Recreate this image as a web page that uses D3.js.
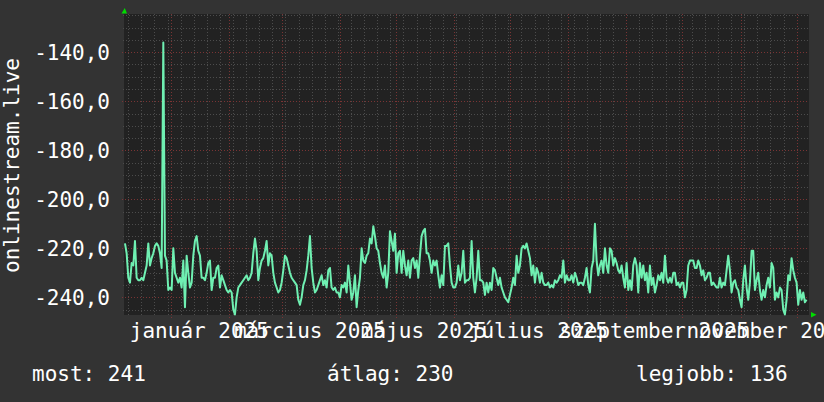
<!DOCTYPE html>
<html>
<head>
<meta charset="utf-8">
<script src="https://cdn.jsdelivr.net/npm/d3@7"></script>
<style>
  html, body { margin: 0; padding: 0; background: #333333; }
  svg { display: block; }
</style>
</head>
<body>
<div id="chart"></div>
<script>
// rank per sample (plotted as negative)
var ranks = [
  218,222,232,234,226,227,217,232,233,233,232,233,230,227,218,227,224,222,219,218,
  219,222,228,136,223,225,237,236,237,220,230,232,234,232,236,225,244,223,230,236,
  234,223,217,215,221,223,232,232,233,230,226,225,237,232,232,228,227,236,231,
  233,235,237,238,237,238,245,247,240,236,235,234,233,232,231,233,232,230,222,216,
  221,233,228,225,224,221,217,227,222,223,230,234,236,238,237,234,229,223,224,227,
  230,232,233,234,235,241,243,240,235,233,229,223,215,228,234,238,237,235,
  233,231,235,233,236,229,228,236,237,236,238,238,240,235,236,234,238,227,234,241,
  238,231,244,237,232,220,225,226,223,222,216,218,211,215,220,221,226,230,232,227,
  236,230,213,217,221,214,230,222,221,
  230,221,227,231,225,232,225,224,228,225,
  232,223,215,213,212,222,222,225,230,225,
  227,225,231,236,231,235,219,219,218,227,
  234,236,236,234,227,233,230,221,234,233,
  233,232,217,232,238,232,221,233,233,234,
  239,234,238,234,237,228,229,232,235,232,
  236,238,240,241,242,239,236,232,235,223,
  230,227,220,219,220,218,221,224,231,227,
  234,228,230,234,230,234,235,235,234,236,
  235,236,233,234,233,231,232,225,234,231,
  233,233,231,234,230,232,235,234,234,235,
  232,228,235,238,228,225,210,225,231,227,
  225,230,220,227,230,220,221,227,224,226,
  229,230,227,232,236,226,237,233,237,227,
  224,227,238,226,232,227,233,230,238,227,
  235,232,238,235,231,233,230,234,223,232,
  234,232,234,230,230,235,234,236,234,234,
  240,237,227,225,225,225,228,228,225,227,
  231,229,233,232,230,230,235,234,235,236,
  236,232,236,234,235,229,223,229,238,234,
  233,236,237,241,244,233,227,236,241,234,
  221,221,237,233,230,237,241,237,240,235,
  232,236,226,228,241,238,240,236,237,245,
  247,241,231,233,224,229,232,234,243,237,241,238,242,241
];
var firstSample = new Date(2024, 11, 7, 6, 30);
var lastSample  = new Date(2025, 11, 6, 7, 0);
var viewStart   = new Date(2024, 11, 6, 18, 0);
var viewEnd     = new Date(2025, 11, 7, 14, 0);

var yMin = -247.2, yMax = -124.4;
var yMajorStep = 20, yMinorStep = 5;

var huMonths = ["január","február","március","április","május","június",
                "július","augusztus","szeptember","október","november","december"];
var huShortMonths = ["jan","feb","márc","ápr","máj","jún","júl","aug","szept","okt","nov","dec"];
var huDays = ["vasárnap","hétfő","kedd","szerda","csütörtök","péntek","szombat"];
var huShortDays = ["V","H","K","Sze","Cs","P","Szo"];

var title = "onlinestream.live";
var summary = [["most", 241], ["átlag", 230], ["legjobb", 136]];

var width = 824, height = 402;
var plot = {left: 124, right: 809, top: 14, bottom: 315};
var font = "'DejaVu Sans Mono', 'Liberation Mono', monospace";

var huTime = d3.timeFormatLocale({
  dateTime: "%Y. %B %-d. %X", date: "%Y.%m.%d.", time: "%H:%M:%S",
  periods: ["de.", "du."], days: huDays, shortDays: huShortDays,
  months: huMonths, shortMonths: huShortMonths
});
var huNum = d3.formatLocale({decimal: ",", thousands: " ", grouping: [3], currency: ["", " Ft"], minus: "-"});
var fmtY = huNum.format(".1f");
var fmtX = huTime.format("%B %Y");

var svg = d3.select("#chart").append("svg")
  .attr("width", width)
  .attr("height", height);

svg.append("rect").attr("width", width).attr("height", height).attr("fill", "#333333");

var x = d3.scaleTime().domain([viewStart, viewEnd]).range([plot.left, plot.right]);
var y = d3.scaleLinear().domain([yMin, yMax]).range([plot.bottom, plot.top]);
var sampleTime = d3.scaleLinear().domain([0, ranks.length - 1]).range([+firstSample, +lastSample]);

// plot background
svg.append("rect")
  .attr("x", plot.left).attr("y", plot.top)
  .attr("width", plot.right - plot.left).attr("height", plot.bottom - plot.top)
  .attr("fill", "#222222");

var grid = svg.append("g").attr("shape-rendering", "crispEdges");
var minorCol = "#4c4c4c", majorCol = "#7a3434", dash = "1,2";

// minor horizontal lines
var yMinor = d3.range(Math.ceil(yMin / yMinorStep) * yMinorStep, yMax, yMinorStep)
  .filter(function(v) { return v % yMajorStep !== 0; });
grid.selectAll(".hmin").data(yMinor).enter().append("line")
  .attr("x1", plot.left - 1).attr("x2", plot.right)
  .attr("y1", function(d) { return Math.round(y(d)) + 0.5; })
  .attr("y2", function(d) { return Math.round(y(d)) + 0.5; })
  .attr("stroke", minorCol).attr("stroke-dasharray", dash);

// minor vertical lines, weekly
var months = d3.timeMonth.range(viewStart, viewEnd);
var weeks = d3.timeMonday.range(viewStart, viewEnd);
grid.selectAll(".vmin").data(weeks).enter().append("line")
  .attr("x1", function(d) { return Math.round(x(d)) + 0.5; })
  .attr("x2", function(d) { return Math.round(x(d)) + 0.5; })
  .attr("y1", plot.top).attr("y2", plot.bottom + 1)
  .attr("stroke", minorCol).attr("stroke-dasharray", dash);

// major horizontal
var yMajor = d3.range(Math.ceil(yMin / yMajorStep) * yMajorStep, yMax, yMajorStep);
grid.selectAll(".hmaj").data(yMajor).enter().append("line")
  .attr("x1", plot.left - 2).attr("x2", plot.right)
  .attr("y1", function(d) { return Math.round(y(d)) + 0.5; })
  .attr("y2", function(d) { return Math.round(y(d)) + 0.5; })
  .attr("stroke", majorCol).attr("stroke-dasharray", dash);

// major vertical, monthly
grid.selectAll(".vmaj").data(months).enter().append("line")
  .attr("x1", function(d) { return Math.round(x(d)) + 0.5; })
  .attr("x2", function(d) { return Math.round(x(d)) + 0.5; })
  .attr("y1", plot.top).attr("y2", plot.bottom + 3)
  .attr("stroke", majorCol).attr("stroke-dasharray", dash);

// data line
var line = d3.line()
  .x(function(d, i) { return x(new Date(sampleTime(i))); })
  .y(function(d) { return y(-d); });

svg.append("path")
  .datum(ranks)
  .attr("d", line)
  .attr("fill", "none")
  .attr("stroke", "#6ff0b2")
  .attr("stroke-width", 2)
  .attr("stroke-linejoin", "round");

// axis arrows
svg.append("path")
  .attr("d", "M" + (plot.left - 2.5) + "," + (plot.top - 0.5) + "L" + (plot.left + 3) + "," + (plot.top - 0.5) + "L" + (plot.left + 0.75) + "," + (plot.top - 6) + "Z")
  .attr("fill", "#00dd00");
svg.append("path")
  .attr("d", "M" + (plot.right + 2) + "," + (plot.bottom - 3) + "L" + (plot.right + 2) + "," + (plot.bottom + 2.5) + "L" + (plot.right + 7.5) + "," + (plot.bottom - 0.25) + "Z")
  .attr("fill", "#00dd00");

// y labels
svg.selectAll(".ylab").data(yMajor).enter().append("text")
  .attr("x", 110)
  .attr("y", function(d) { return y(d) + 8; })
  .attr("text-anchor", "end")
  .attr("fill", "#ffffff")
  .attr("font-family", font)
  .attr("font-size", "21px")
  .text(function(d) { return fmtY(d); });

// x labels, every second month, shifted half a month
var labelMonths = d3.timeMonth.every(2).range(viewStart, viewEnd);
svg.selectAll(".xlab").data(labelMonths).enter().append("text")
  .attr("x", function(d) { return x(d3.timeDay.offset(d, 15)); })
  .attr("y", 338)
  .attr("text-anchor", "middle")
  .attr("fill", "#ffffff")
  .attr("font-family", font)
  .attr("font-size", "21px")
  .text(function(d) { return fmtX(d); });

// vertical title
svg.append("text")
  .attr("transform", "translate(18.5," + ((plot.top + plot.bottom) / 2 + 1) + ") rotate(-90)")
  .attr("text-anchor", "middle")
  .attr("fill", "#ffffff")
  .attr("font-family", font)
  .attr("font-size", "21px")
  .text(title);

// legend row
var legendX = [32, 327, 636];
svg.selectAll(".leg").data(summary).enter().append("text")
  .attr("x", function(d, i) { return legendX[i]; })
  .attr("y", 381)
  .attr("fill", "#ffffff")
  .attr("font-family", font)
  .attr("font-size", "21px")
  .text(function(d) { return d[0] + ": " + d[1]; });
</script>
</body>
</html>
